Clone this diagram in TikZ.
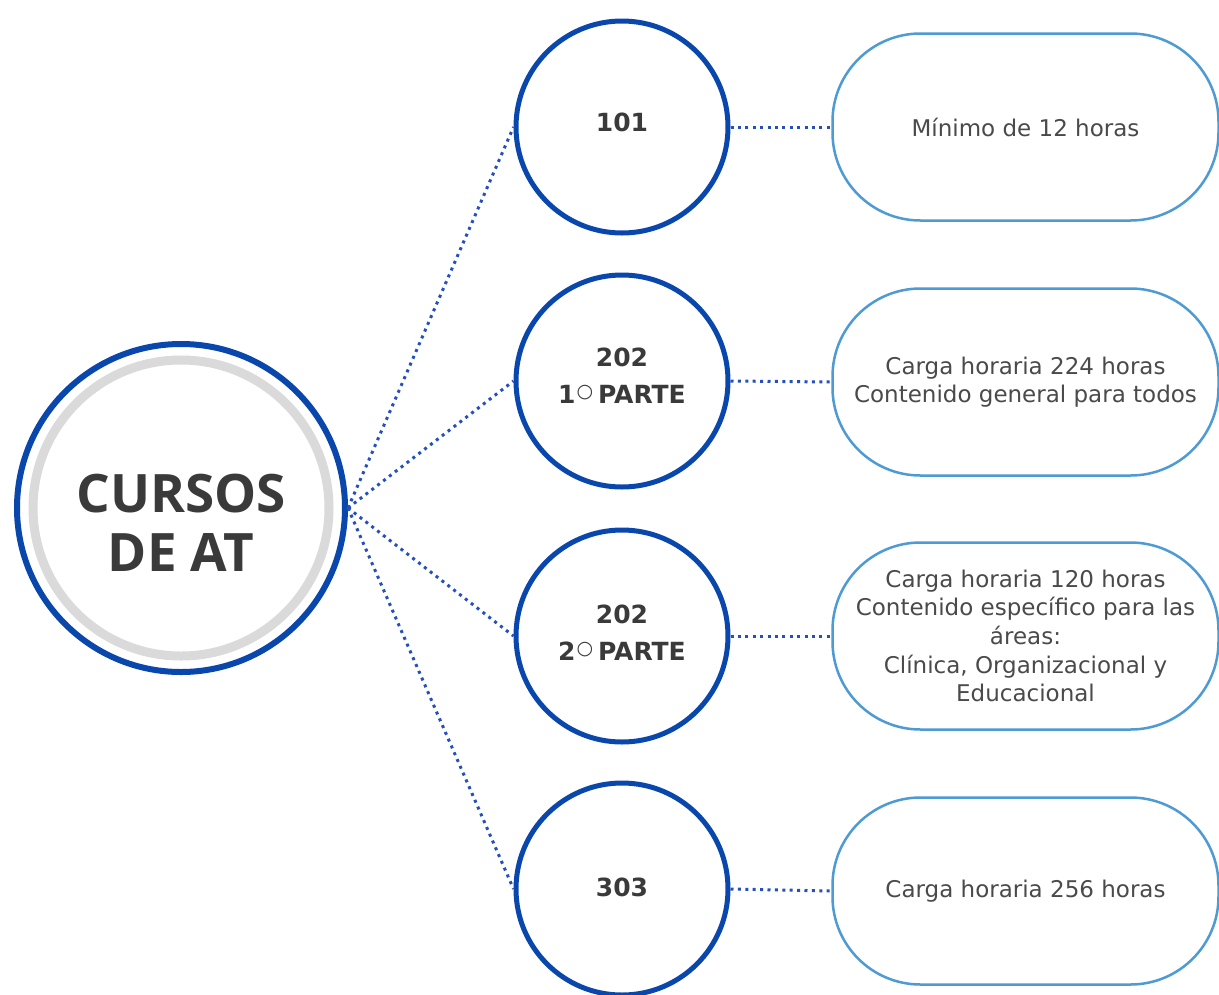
\documentclass[tikz,border=0pt]{standalone}
\usepackage{fontspec}
\usepackage{graphicx}
\setmainfont{DejaVu Sans}
\newfontfamily\titlefont{Open Sans}
\newfontfamily\numfont{DejaVu Sans}
\newfontfamily\symfont{DejaVu Sans}
\definecolor{mainblue}{HTML}{0A47AD}
\definecolor{pillblue}{HTML}{4E9BD3}
\definecolor{dotblue}{HTML}{2450BE}
\definecolor{ringgray}{HTML}{DADADA}
\definecolor{txtdark}{HTML}{3A3A3A}
\definecolor{txtgray}{HTML}{4A4A4A}
\newcommand{\degring}{\raisebox{0.22em}{\symfont\mdseries\fontsize{19}{19}\selectfont ○}}
\tikzset{
  bigouter/.style={circle, draw=mainblue, line width=6pt, minimum size=328pt, inner sep=0pt},
  bigring/.style={circle, draw=ringgray, line width=9pt, minimum size=296pt, inner sep=0pt},
  titletext/.style={anchor=base, inner sep=0pt, text=txtdark, font=\titlefont\bfseries\fontsize{53}{60}\selectfont},
  smallcirc/.style={circle, draw=mainblue, line width=5pt, minimum size=212pt, inner sep=0pt, fill=white},
  numtext/.style={anchor=base, inner sep=0pt, text=txtdark, font=\numfont\bfseries\fontsize{25}{30}\selectfont},
  pill/.style={draw=pillblue, line width=2.5pt, rounded corners=88pt, minimum width=386pt, minimum height=187pt, inner sep=0pt, align=center, text=txtgray, font=\fontsize{23}{28.7}\selectfont, fill=white},
  dotline/.style={draw=dotblue, line width=3pt, dash pattern=on 3pt off 4.4pt}
}
\begin{document}
\begin{tikzpicture}[x=1pt,y=-1pt]
\useasboundingbox (0,0) rectangle (1219,994);
\fill[white] (0,0) rectangle (1219,994);
% centre
\node[bigouter] (big) at (181,508) {};
\node[bigring] (ring) at (181,508) {};
\node[titletext] (t1) at (181,512) {CURSOS};
\node[titletext] (t2) at (181,571) {DE AT};
% small circles
\node[smallcirc] (c1) at (622,127) {};
\node[smallcirc] (c2) at (622,381) {};
\node[smallcirc] (c3) at (622,636) {};
\node[smallcirc] (c4) at (622,889) {};
\node[numtext] (n1) at (622,131) {101};
\node[numtext] (n2a) at (622,366) {202};
\node[numtext] (n2b) at (622,403) {1\hspace{1pt}\degring\hspace{5pt}PARTE};
\node[numtext] (n3a) at (622,623) {202};
\node[numtext] (n3b) at (622,660) {2\hspace{1pt}\degring\hspace{5pt}PARTE};
\node[numtext] (n4) at (622,896) {303};
% pills
\node[pill] (p1) at (1025.5,127) {Mínimo de 12 horas};
\node[pill] (p2) at (1025.5,382) {Carga horaria 224 horas\\Contenido general para todos};
\node[pill] (p3) at (1025.5,636) {Carga horaria 120 horas\\Contenido específico para las\\áreas:\\Clínica, Organizacional y\\Educacional};
\node[pill] (p4) at (1025.5,891) {Carga horaria 256 horas};
% connectors
\draw[dotline] (big.east) -- (c1.west);
\draw[dotline] (big.east) -- (c2.west);
\draw[dotline] (big.east) -- (c3.west);
\draw[dotline] (big.east) -- (c4.west);
\draw[dotline] (c1.east) -- (p1.west);
\draw[dotline] (c2.east) -- (p2.west);
\draw[dotline] (c3.east) -- (p3.west);
\draw[dotline] (c4.east) -- (p4.west);
\end{tikzpicture}
\end{document}
